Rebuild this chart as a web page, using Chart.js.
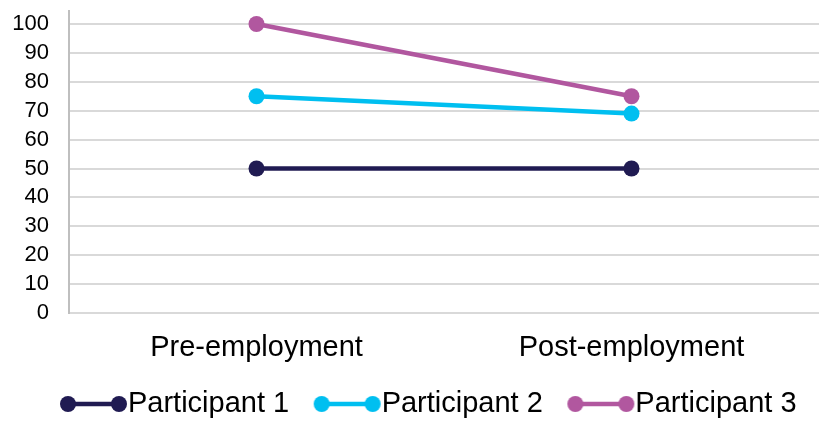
<!DOCTYPE html>
<html>
<head>
<meta charset="utf-8">
<script src="https://cdn.jsdelivr.net/npm/chart.js@4/dist/chart.umd.min.js"></script>
<style>
  html, body { margin: 0; padding: 0; background: #ffffff; }
  #wrap { width: 819px; height: 421px; position: relative; }
</style>
</head>
<body>
<div id="wrap"><canvas id="c"></canvas></div>
<script>
const categories = ['Pre-employment', 'Post-employment'];
const seriesNames = ['Participant 1', 'Participant 2', 'Participant 3'];
const participant1 = [50, 50];
const participant2 = [75, 69];
const participant3 = [100, 75];
const seriesColors = ['#201B52', '#00BFF0', '#B1579F'];
const yTickValues = [0, 10, 20, 30, 40, 50, 60, 70, 80, 90, 100];

const LEG_BOX = 65;
function legendIcon(color) {
  const cv = document.createElement('canvas');
  const w = LEG_BOX + 29;
  cv.width = w; cv.height = 18;
  const g = cv.getContext('2d');
  g.strokeStyle = color; g.fillStyle = color; g.lineWidth = 4.5;
  const x2 = w - 9, x1 = x2 - 51;
  g.beginPath(); g.moveTo(x1, 9); g.lineTo(x2, 9); g.stroke();
  g.beginPath(); g.arc(x1, 9, 8, 0, Math.PI * 2); g.fill();
  g.beginPath(); g.arc(x2, 9, 8, 0, Math.PI * 2); g.fill();
  return cv;
}

const seriesData = [participant1, participant2, participant3];
const datasets = seriesNames.map((name, i) => ({
  label: name,
  data: seriesData[i],
  borderColor: seriesColors[i],
  backgroundColor: seriesColors[i],
  pointBackgroundColor: seriesColors[i],
  pointBorderColor: seriesColors[i],
  borderWidth: 4.5,
  pointRadius: 8,
  pointHoverRadius: 8,
  pointBorderWidth: 0,
  pointStyle: 'circle',
  tension: 0,
  fill: false,
  clip: false
}));

const legendShift = {
  id: 'legendShift',
  afterLayout(chart) {
    if (chart.legend) { chart.legend.left += 5; chart.legend.right += 5; }
  }
};

new Chart(document.getElementById('c'), {
  type: 'line',
  data: { labels: categories, datasets: datasets },
  plugins: [legendShift],
  options: {
    responsive: true,
    maintainAspectRatio: false,
    animation: false,
    layout: { autoPadding: false, padding: { top: 11, left: 10, right: -6, bottom: -7.5 } },
    plugins: {
      tooltip: { enabled: false },
      legend: {
        position: 'bottom',
        labels: {
          usePointStyle: true,
          pointStyleWidth: LEG_BOX,
          padding: 13,
          color: '#000000',
          font: { family: '"Liberation Sans", Arial, sans-serif', size: 29 },
          generateLabels: (chart) => chart.data.datasets.map((ds, i) => ({
            text: ds.label,
            pointStyle: legendIcon(seriesColors[i]),
            fillStyle: seriesColors[i],
            strokeStyle: seriesColors[i],
            lineWidth: 0,
            hidden: false,
            datasetIndex: i,
            fontColor: '#000000'
          }))
        }
      }
    },
    scales: {
      x: {
        offset: true,
        grid: { display: false, drawTicks: false },
        border: { display: true, color: '#d9d9d9', width: 2 },
        ticks: {
          padding: 18,
          color: '#000000',
          font: { family: '"Liberation Sans", Arial, sans-serif', size: 29 }
        },
        afterFit: (s) => { s.height = 63.5; }
      },
      y: {
        min: 0,
        max: 104.5,
        afterBuildTicks: (s) => { s.ticks = yTickValues.map(v => ({ value: v })); },
        grid: { color: '#d9d9d9', lineWidth: 2, drawTicks: true, tickLength: 20, tickColor: 'rgba(0,0,0,0)' },
        border: { display: true, color: '#bfbfbf', width: 2 },
        ticks: {
          padding: 0,
          color: '#000000',
          font: { family: '"Liberation Sans", Arial, sans-serif', size: 22, lineHeight: 1 }
        },
        afterFit: (s) => { s.width = 59; }
      }
    }
  }
});
</script>
</body>
</html>
